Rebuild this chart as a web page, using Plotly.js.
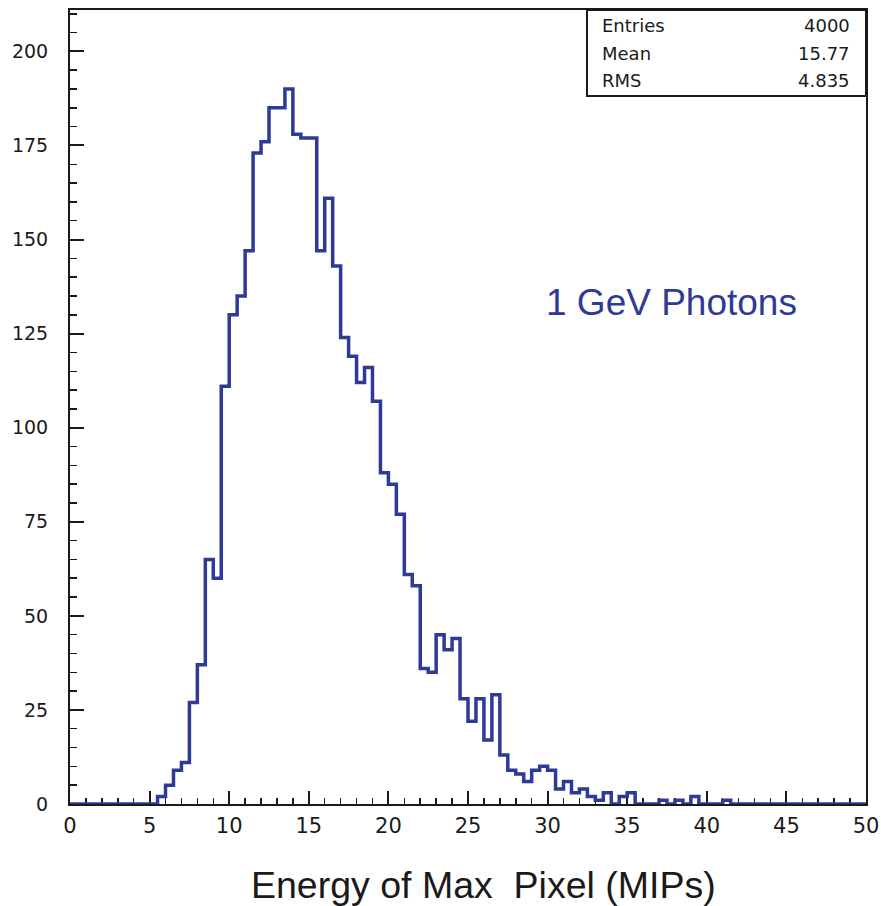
<!DOCTYPE html>
<html><head><meta charset="utf-8">
<script src="https://cdn.plot.ly/plotly-3.0.1.min.js"></script>
<style>html,body{margin:0;padding:0;background:#fff}</style>
</head><body>
<div id="chart" style="width:881px;height:906px"></div>
<script>
// Histogram: 100 bins of width 0.5 from 0 to 50
const binWidth = 0.5;
const counts = [
  0,0,0,0,0,0,0,0,0,0,0,
  2,5,9,11,27,37,65,60,111,130,
  135,147,173,176,185,185,190,178,177,177,
  147,161,143,124,119,112,116,107,88,85,
  77,61,58,36,35,45,41,44,28,22,
  28,17,29,13,9,8,6,9,10,9,
  4,6,3,4,2,1,3,0,2,3,
  0,0,0,1,0,1,0,2,0,0,
  0,1,0,0,0,0,0,0,0,0,
  0,0,0,0,0,0,0,0,0
];
const statLabels = ["Entries", "Mean", "RMS"];
const statValues = ["4000", "15.77", "4.835"];
const xTitle = "Energy of Max\u00a0 Pixel (MIPs)";
const labelText = "1 GeV Photons";

const edges = counts.map((c, i) => i * binWidth).concat([counts.length * binWidth]);
const stepY = counts.concat([counts[counts.length - 1]]);

const lineColor = "rgb(46,58,152)";
const ink = "#1a1a1a";

const trace = {
  type: "scatter", mode: "lines",
  x: edges, y: stepY,
  line: {shape: "hv", color: lineColor, width: 3.5},
  hoverinfo: "x+y", showlegend: false
};

const rowY = [0.9811, 0.9458, 0.9106];
const annotations = [];
statLabels.forEach((t, i) => {
  annotations.push({xref: "paper", yref: "paper", x: 0.666, y: rowY[i], xanchor: "left", yanchor: "middle",
    text: t, showarrow: false, font: {family: "DejaVu Sans, sans-serif", size: 18, color: ink}});
  annotations.push({xref: "paper", yref: "paper", x: 0.9824, y: rowY[i], xanchor: "right", yanchor: "middle",
    text: statValues[i], showarrow: false, font: {family: "DejaVu Sans, sans-serif", size: 18, color: ink}});
});
annotations.push({xref: "x", yref: "y", x: 37.8, y: 133.2, xanchor: "center", yanchor: "middle",
  text: labelText, showarrow: false, font: {family: "Liberation Sans, Arial, sans-serif", size: 37, color: lineColor}});
// x-axis title, placed below the axis
annotations.push({xref: "paper", yref: "paper", x: 0.52, y: -0.102, xanchor: "center", yanchor: "middle",
  text: xTitle, showarrow: false, font: {family: "Liberation Sans, Arial, sans-serif", size: 37.5, color: ink}});

const layout = {
  width: 881, height: 906,
  margin: {l: 70, r: 15, t: 10, b: 102},
  paper_bgcolor: "#fff", plot_bgcolor: "#fff",
  font: {family: "Liberation Sans, Arial, sans-serif", color: ink},
  xaxis: {
    range: [0, 50], dtick: 5, tick0: 0,
    ticks: "inside", ticklen: 13, tickwidth: 2, tickcolor: ink,
    minor: {dtick: 1, ticks: "inside", ticklen: 6, tickwidth: 1.5, tickcolor: ink, showgrid: false},
    showgrid: false, zeroline: false,
    showline: true, linewidth: 2, linecolor: ink, mirror: true,
    layer: "below traces",
    tickfont: {family: "DejaVu Sans, sans-serif", size: 21, color: ink},
    ticklabelstandoff: 2
  },
  yaxis: {
    range: [0, 211], dtick: 25, tick0: 0,
    ticks: "inside", ticklen: 14, tickwidth: 2, tickcolor: ink,
    minor: {dtick: 5, ticks: "inside", ticklen: 7, tickwidth: 1.5, tickcolor: ink, showgrid: false},
    showgrid: false, zeroline: false,
    showline: true, linewidth: 2, linecolor: ink, mirror: true,
    layer: "below traces",
    tickfont: {family: "DejaVu Sans, sans-serif", size: 19, color: ink},
    ticklabelstandoff: 16
  },
  shapes: [{
    type: "rect", xref: "paper", yref: "paper",
    x0: 0.6495, x1: 1, y0: 0.8917, y1: 1,
    line: {color: ink, width: 2}, fillcolor: "#fff", layer: "above"
  }],
  annotations: annotations
};

Plotly.newPlot("chart", [trace], layout, {displayModeBar: false, staticPlot: true});
</script>
</body></html>
